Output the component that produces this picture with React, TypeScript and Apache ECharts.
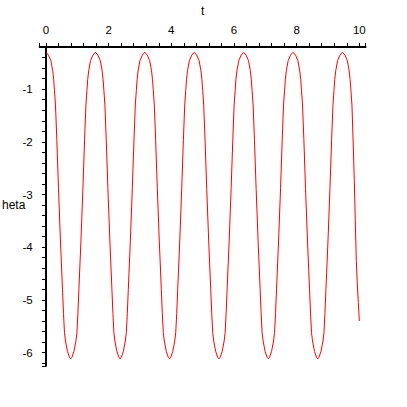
import React, { useEffect, useRef } from "react";
import * as echarts from "echarts";

// time samples t (swing by swing)
const tValues: number[] = [
  0, 0.08, 0.156, 0.214, 0.246, 0.271, 0.303, 0.345, 0.399, 0.463, 0.527, 0.559, 0.59, 0.622, 0.686, 0.75,
  0.789, 0.827, 0.891, 0.955, 0.987, 1.018, 1.05, 1.114, 1.178, 1.232, 1.274, 1.306, 1.331, 1.363, 1.421, 1.497,
  1.577, 1.657, 1.733, 1.791, 1.823, 1.848, 1.88, 1.922, 1.976, 2.04, 2.104, 2.136, 2.167, 2.199, 2.263, 2.327,
  2.366, 2.404, 2.468, 2.532, 2.564, 2.595, 2.627, 2.691, 2.755, 2.809, 2.851, 2.883, 2.908, 2.94, 2.998, 3.074,
  3.154, 3.234, 3.31, 3.368, 3.4, 3.425, 3.457, 3.499, 3.553, 3.617, 3.681, 3.713, 3.744, 3.776, 3.84, 3.904,
  3.943, 3.981, 4.045, 4.109, 4.141, 4.172, 4.204, 4.268, 4.332, 4.386, 4.428, 4.46, 4.485, 4.517, 4.575, 4.651,
  4.731, 4.811, 4.887, 4.945, 4.977, 5.002, 5.034, 5.076, 5.13, 5.194, 5.258, 5.29, 5.321, 5.353, 5.417, 5.481,
  5.52, 5.558, 5.622, 5.686, 5.718, 5.749, 5.781, 5.845, 5.909, 5.963, 6.005, 6.037, 6.062, 6.094, 6.152, 6.228,
  6.308, 6.388, 6.464, 6.522, 6.554, 6.579, 6.611, 6.653, 6.707, 6.771, 6.835, 6.867, 6.898, 6.93, 6.994, 7.058,
  7.097, 7.135, 7.199, 7.263, 7.295, 7.326, 7.358, 7.422, 7.486, 7.54, 7.582, 7.614, 7.639, 7.671, 7.729, 7.805,
  7.885, 7.965, 8.041, 8.099, 8.131, 8.156, 8.188, 8.23, 8.284, 8.348, 8.412, 8.444, 8.475, 8.507, 8.571, 8.635,
  8.674, 8.712, 8.776, 8.84, 8.872, 8.903, 8.935, 8.999, 9.063, 9.117, 9.159, 9.191, 9.216, 9.248, 9.306, 9.382,
  9.462, 9.542, 9.618, 9.676, 9.708, 9.733, 9.765, 9.795, 9.84, 9.872, 9.904, 9.936, 9.968, 10.0,
];

// theta values at those times
const thetaValues: number[] = [
  -0.3, -0.355, -0.46, -0.65, -0.82, -1.03, -1.3, -1.95, -2.89, -3.9, -4.8, -5.26, -5.62, -5.78, -5.98, -6.09,
  -6.12, -6.09, -5.98, -5.78, -5.62, -5.26, -4.8, -3.9, -2.89, -1.95, -1.3, -1.03, -0.82, -0.65, -0.46, -0.355,
  -0.3, -0.355, -0.46, -0.65, -0.82, -1.03, -1.3, -1.95, -2.89, -3.9, -4.8, -5.26, -5.62, -5.78, -5.98, -6.09,
  -6.12, -6.09, -5.98, -5.78, -5.62, -5.26, -4.8, -3.9, -2.89, -1.95, -1.3, -1.03, -0.82, -0.65, -0.46, -0.355,
  -0.3, -0.355, -0.46, -0.65, -0.82, -1.03, -1.3, -1.95, -2.89, -3.9, -4.8, -5.26, -5.62, -5.78, -5.98, -6.09,
  -6.12, -6.09, -5.98, -5.78, -5.62, -5.26, -4.8, -3.9, -2.89, -1.95, -1.3, -1.03, -0.82, -0.65, -0.46, -0.355,
  -0.3, -0.355, -0.46, -0.65, -0.82, -1.03, -1.3, -1.95, -2.89, -3.9, -4.8, -5.26, -5.62, -5.78, -5.98, -6.09,
  -6.12, -6.09, -5.98, -5.78, -5.62, -5.26, -4.8, -3.9, -2.89, -1.95, -1.3, -1.03, -0.82, -0.65, -0.46, -0.355,
  -0.3, -0.355, -0.46, -0.65, -0.82, -1.03, -1.3, -1.95, -2.89, -3.9, -4.8, -5.26, -5.62, -5.78, -5.98, -6.09,
  -6.12, -6.09, -5.98, -5.78, -5.62, -5.26, -4.8, -3.9, -2.89, -1.95, -1.3, -1.03, -0.82, -0.65, -0.46, -0.355,
  -0.3, -0.355, -0.46, -0.65, -0.82, -1.03, -1.3, -1.95, -2.89, -3.9, -4.8, -5.26, -5.62, -5.78, -5.98, -6.09,
  -6.12, -6.09, -5.98, -5.78, -5.62, -5.26, -4.8, -3.9, -2.89, -1.95, -1.3, -1.03, -0.82, -0.65, -0.46, -0.355,
  -0.3, -0.355, -0.46, -0.65, -0.82, -1.03, -1.3, -1.85, -2.72, -3.5, -4.25, -4.7, -5.05, -5.4,
];

// axis labels
const xTickLabels: number[] = [0, 2, 4, 6, 8, 10];
const yTickLabels: number[] = [-1, -2, -3, -4, -5, -6];

// axis extents and minor tick spacing
const X_MIN = -0.2;
const X_MAX = 10.2;
const X_STEP = 0.4;
const Y_MIN = -6.25;
const Y_MAX = -0.2;
const Y_STEP = 0.2;

const xTicks: number[] = [X_MIN];
for (let i = 0; i <= Math.round(10 / X_STEP); i++) xTicks.push(+(i * X_STEP).toFixed(4));
xTicks.push(X_MAX);

const yTicks: number[] = [];
for (let i = 2; i <= 31; i++) yTicks.push(+(-i * Y_STEP).toFixed(4));
yTicks.push(Y_MIN);

const FONT = "'Liberation Sans', Arial, Helvetica, sans-serif";

export default function App() {
  const ref = useRef<HTMLDivElement>(null);
  useEffect(() => {
    if (!ref.current) return;
    const chart = echarts.init(ref.current, null, { renderer: "svg" });
    const data = tValues.map((t, i) => [t, thetaValues[i]]);
    chart.setOption({
      animation: false,
      backgroundColor: "#ffffff",
      textStyle: { fontFamily: FONT },
      grid: { left: 39.73, right: 41.43, top: 40.26, bottom: 41.25 },
      xAxis: {
        type: "value",
        position: "top",
        min: X_MIN,
        max: X_MAX,
        name: "t",
        nameLocation: "middle",
        nameGap: 30,
        nameTextStyle: { color: "#000", fontSize: 12, fontFamily: FONT },
        axisLine: { onZero: false, lineStyle: { color: "#000", width: 2 } },
        axisTick: { show: true, length: 4, customValues: xTicks, lineStyle: { color: "#000", width: 1 } },
        axisLabel: { customValues: xTickLabels, color: "#000", fontSize: 11.5, fontFamily: FONT, margin: 11 },
        splitLine: { show: false },
      },
      yAxis: {
        type: "value",
        min: Y_MIN,
        max: Y_MAX,
        axisLine: { onZero: true, lineStyle: { color: "#000", width: 2 } },
        axisTick: { show: true, length: 4, customValues: yTicks, lineStyle: { color: "#000", width: 1 } },
        axisLabel: { customValues: yTickLabels, color: "#000", fontSize: 11.5, fontFamily: FONT, margin: 7 },
        splitLine: { show: false },
      },
      graphic: [
        {
          type: "text",
          left: 2,
          top: 199,
          style: { text: "heta", fill: "#000", font: `12px ${FONT}` },
        },
      ],
      series: [
        {
          type: "line",
          data,
          showSymbol: false,
          smooth: false,
          clip: true,
          lineStyle: { color: "#ff0000", width: 1 },
        },
      ],
    });
    return () => chart.dispose();
  }, []);
  return (
    <div
      ref={ref}
      style={{ position: "fixed", left: 0, top: 0, width: 407, height: 407, background: "#fff" }}
    />
  );
}
